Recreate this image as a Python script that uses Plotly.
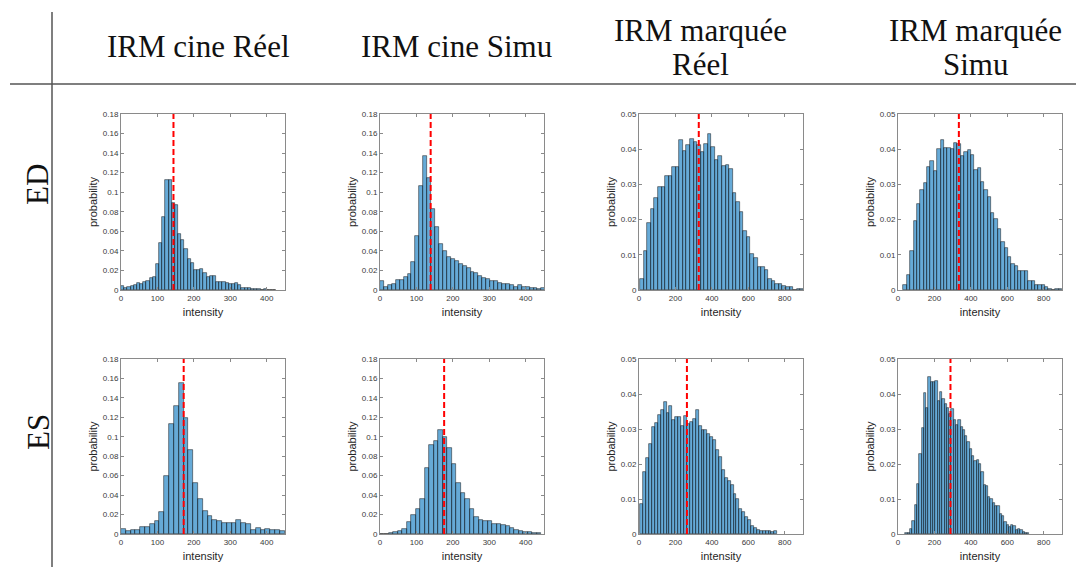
import plotly.graph_objects as go
from plotly.subplots import make_subplots

# ---------------- data ----------------
col_titles = [["IRM cine Réel"], ["IRM cine Simu"], ["IRM marquée", "Réel"], ["IRM marquée", "Simu"]]
row_titles = ["ED", "ES"]

# bin layout (first edge, bin width) and probabilities for each histogram
ed_cine_reel_bins = (0, 8.7)
ed_cine_reel = [0.004, 0.002, 0.003, 0.004, 0.005, 0.007, 0.006, 0.008, 0.009, 0.012, 0.013, 0.027,
                0.048, 0.075, 0.112, 0.113, 0.089, 0.087, 0.057, 0.051, 0.042, 0.032, 0.028, 0.020,
                0.020, 0.021, 0.017, 0.013, 0.014, 0.014, 0.008, 0.008, 0.008, 0.007, 0.006, 0.006,
                0.007, 0.005, 0.002, 0.002, 0.002, 0.001, 0.001, 0.001, 0.0005, 0.0007, 0.0003,
                0.0003, 0.0003]
ed_cine_reel_mean = 144

ed_cine_simu_bins = (0, 10.8)
ed_cine_simu = [0.009, 0.003, 0.005, 0.006, 0.010, 0.010, 0.013, 0.016, 0.029, 0.055, 0.106, 0.137,
                0.115, 0.083, 0.064, 0.047, 0.040, 0.034, 0.032, 0.030, 0.027, 0.025, 0.023, 0.018,
                0.017, 0.014, 0.012, 0.011, 0.009, 0.009, 0.007, 0.006, 0.006, 0.005, 0.003, 0.005,
                0.003, 0.003, 0.002, 0.002, 0.001, 0.002]
ed_cine_simu_mean = 139

ed_marq_reel_bins = (7, 19.5)
ed_marq_reel = [0.0032, 0.0112, 0.0190, 0.0229, 0.0260, 0.0294, 0.0294, 0.0323, 0.0323, 0.0349,
                0.0350, 0.0426, 0.0394, 0.0411, 0.0429, 0.0421, 0.0412, 0.0393, 0.0416, 0.0442,
                0.0406, 0.0370, 0.0381, 0.0353, 0.0355, 0.0344, 0.0275, 0.0250, 0.0222, 0.0167,
                0.0150, 0.0103, 0.0090, 0.0066, 0.0064, 0.0058, 0.0030, 0.0026, 0.0018, 0.0017,
                0.0012, 0.0008, 0.0008, 0.0001, 0.0002, 0.0002]
ed_marq_reel_mean = 328

ed_marq_simu_bins = (30, 18.5)
ed_marq_simu = [0.0015, 0.0044, 0.0112, 0.0195, 0.0243, 0.0283, 0.0305, 0.0350, 0.0367, 0.0338,
                0.0402, 0.0427, 0.0404, 0.0404, 0.0400, 0.0418, 0.0414, 0.0381, 0.0391, 0.0397,
                0.0384, 0.0342, 0.0348, 0.0306, 0.0284, 0.0265, 0.0220, 0.0203, 0.0172, 0.0135,
                0.0120, 0.0095, 0.0074, 0.0068, 0.0055, 0.0055, 0.0055, 0.0027, 0.0027, 0.0014,
                0.0014, 0.0014, 0.0008, 0.0002, 0.0001, 0.0002, 0.0002]
ed_marq_simu_mean = 334

es_cine_reel_bins = (0, 13.2)
es_cine_reel = [0.005, 0.003, 0.004, 0.004, 0.007, 0.007, 0.010, 0.013, 0.023, 0.060, 0.113, 0.132,
                0.155, 0.119, 0.086, 0.052, 0.036, 0.024, 0.019, 0.014, 0.013, 0.011, 0.011, 0.011,
                0.014, 0.011, 0.010, 0.004, 0.006, 0.004, 0.005, 0.004, 0.004, 0.003]
es_cine_reel_mean = 172

es_cine_simu_bins = (0, 12.3)
es_cine_simu = [0.0005, 0.0005, 0.001, 0.002, 0.003, 0.005, 0.012, 0.020, 0.026, 0.036, 0.068, 0.092,
                0.096, 0.107, 0.100, 0.088, 0.072, 0.052, 0.042, 0.036, 0.026, 0.017, 0.014, 0.013,
                0.013, 0.010, 0.010, 0.009, 0.008, 0.006, 0.004, 0.003, 0.002, 0.002, 0.001, 0.001]
es_cine_simu_mean = 176

es_marq_reel_bins = (7, 16)
es_marq_reel = [0.0085, 0.0178, 0.0218, 0.0258, 0.0307, 0.0318, 0.0340, 0.0355, 0.0378, 0.0345,
                0.0365, 0.0325, 0.0335, 0.0335, 0.0310, 0.0338, 0.0313, 0.0320, 0.0330, 0.0355,
                0.0310, 0.0297, 0.0298, 0.0285, 0.0276, 0.0270, 0.0239, 0.0219, 0.0182, 0.0160,
                0.0152, 0.0140, 0.0113, 0.0100, 0.0072, 0.0064, 0.0048, 0.0040, 0.0024, 0.0018,
                0.0011, 0.0010, 0.0009, 0.0009, 0.0009, 0.0006, 0.0008]
es_marq_reel_mean = 263

es_marq_simu_bins = (41, 12.6)
es_marq_simu = [0.0002, 0.0004, 0.0015, 0.0037, 0.0082, 0.0143, 0.0230, 0.0304, 0.0402, 0.0360,
                0.0450, 0.0434, 0.0434, 0.0437, 0.0380, 0.0405, 0.0385, 0.0371, 0.0360, 0.0344,
                0.0356, 0.0327, 0.0311, 0.0325, 0.0305, 0.0296, 0.0279, 0.0263, 0.0242, 0.0222,
                0.0209, 0.0211, 0.0200, 0.0177, 0.0140, 0.0137, 0.0105, 0.0100, 0.0090, 0.0080,
                0.0081, 0.0058, 0.0052, 0.0033, 0.0025, 0.0020, 0.0027, 0.0023, 0.0012, 0.0014,
                0.0011, 0.0006, 0.0004, 0.0002]
es_marq_simu_mean = 288

cine_x_ticks = [0, 100, 200, 300, 400]
cine_y_ticks = [0, 0.02, 0.04, 0.06, 0.08, 0.1, 0.12, 0.14, 0.16, 0.18]
cine_y_ticklabels = ["0", "0.02", "0.04", "0.06", "0.08", "0.1", "0.12", "0.14", "0.16", "0.18"]
marq_x_ticks = [0, 200, 400, 600, 800]
marq_y_ticks = [0, 0.01, 0.02, 0.03, 0.04, 0.05]
marq_y_ticklabels = ["0", "0.01", "0.02", "0.03", "0.04", "0.05"]
cine_x_range = [0, 450]
marq_x_range = [0, 900]
cine_y_max = 0.18
marq_y_max = 0.05

panels = [
    # row, col, bins, values, mean, kind
    (1, 1, ed_cine_reel_bins, ed_cine_reel, ed_cine_reel_mean, "cine"),
    (1, 2, ed_cine_simu_bins, ed_cine_simu, ed_cine_simu_mean, "cine"),
    (1, 3, ed_marq_reel_bins, ed_marq_reel, ed_marq_reel_mean, "marq"),
    (1, 4, ed_marq_simu_bins, ed_marq_simu, ed_marq_simu_mean, "marq"),
    (2, 1, es_cine_reel_bins, es_cine_reel, es_cine_reel_mean, "cine"),
    (2, 2, es_cine_simu_bins, es_cine_simu, es_cine_simu_mean, "cine"),
    (2, 3, es_marq_reel_bins, es_marq_reel, es_marq_reel_mean, "marq"),
    (2, 4, es_marq_simu_bins, es_marq_simu, es_marq_simu_mean, "marq"),
]

# ---------------- layout geometry ----------------
W, H = 1076, 567
col_px = [(121, 285), (380, 544), (639, 803), (898, 1062)]
row_px = [(114, 290), (359, 534)]

fig = make_subplots(rows=2, cols=4)

BAR_FILL = "rgba(0,114,189,0.6)"
BAR_EDGE = "rgba(0,0,0,0.65)"
AX_COLOR = "#8a8a8a"
TICK_FONT = dict(family="Liberation Sans, Arial, sans-serif", size=8, color="#3a3a3a")
LABEL_FONT = dict(family="Liberation Sans, Arial, sans-serif", size=11, color="#262626")

for row, col, (x0, bw), vals, mean, kind in panels:
    edges = [x0 + i * bw for i in range(len(vals))]
    fig.add_trace(go.Bar(x=edges, y=vals, width=bw, offset=0,
                         marker=dict(color=BAR_FILL, line=dict(color=BAR_EDGE, width=0.7)),
                         showlegend=False, hoverinfo="skip"), row=row, col=col)
    ymax = cine_y_max if kind == "cine" else marq_y_max
    fig.add_trace(go.Scatter(x=[mean, mean], y=[0, ymax], mode="lines",
                             line=dict(color="#ff0000", width=2, dash="6px,3px"),
                             showlegend=False, hoverinfo="skip"), row=row, col=col)
    cx = col_px[col - 1]
    ry = row_px[row - 1]
    fig.update_xaxes(domain=[cx[0] / W, cx[1] / W],
                     range=cine_x_range if kind == "cine" else marq_x_range,
                     tickvals=cine_x_ticks if kind == "cine" else marq_x_ticks,
                     title=dict(text="intensity", font=LABEL_FONT, standoff=6),
                     row=row, col=col)
    fig.update_yaxes(domain=[1 - ry[1] / H, 1 - ry[0] / H],
                     range=[0, ymax],
                     tickvals=cine_y_ticks if kind == "cine" else marq_y_ticks,
                     ticktext=cine_y_ticklabels if kind == "cine" else marq_y_ticklabels,
                     title=dict(text="probability", font=LABEL_FONT, standoff=2),
                     row=row, col=col)

fig.update_xaxes(showline=True, mirror="ticks", linecolor=AX_COLOR, linewidth=1,
                 ticks="inside", ticklen=3, tickcolor=AX_COLOR, tickfont=TICK_FONT,
                 showgrid=False, zeroline=False, automargin=False, fixedrange=True)
fig.update_yaxes(showline=True, mirror="ticks", linecolor=AX_COLOR, linewidth=1,
                 ticks="inside", ticklen=3, tickcolor=AX_COLOR, tickfont=TICK_FONT,
                 showgrid=False, zeroline=False, automargin=False, fixedrange=True)

# ---------------- table headers ----------------
SERIF = dict(family="Liberation Serif, Times New Roman, serif", size=31, color="#111111")
header_cx = [198, 456, 700, 975]
annotations = []
for (lines, hx) in zip(col_titles, header_cx):
    if len(lines) == 1:
        ys = [46]
    else:
        ys = [30, 64]
    for txt, hy in zip(lines, ys):
        annotations.append(dict(text=txt, x=hx / W, y=1 - hy / H, xref="paper", yref="paper",
                                showarrow=False, font=SERIF, xanchor="center", yanchor="middle"))
for txt, hy in zip(row_titles, [185, 432]):
    annotations.append(dict(text=txt, x=38 / W, y=1 - hy / H, xref="paper", yref="paper",
                            showarrow=False, font=SERIF, textangle=-90,
                            xanchor="center", yanchor="middle"))

shapes = [
    dict(type="line", xref="paper", yref="paper", x0=52 / W, x1=52 / W, y0=0, y1=1 - 12 / H,
         line=dict(color="#555555", width=1.5)),
    dict(type="line", xref="paper", yref="paper", x0=10 / W, x1=1, y0=1 - 84 / H, y1=1 - 84 / H,
         line=dict(color="#555555", width=1.5)),
]

fig.update_layout(width=W, height=H, margin=dict(l=0, r=0, t=0, b=0),
                  paper_bgcolor="white", plot_bgcolor="white", bargap=0,
                  annotations=annotations, shapes=shapes, showlegend=False)

fig.write_html("out.html", config={"displayModeBar": False},
               post_script="document.body.style.margin='0';document.body.style.overflow='hidden';")
